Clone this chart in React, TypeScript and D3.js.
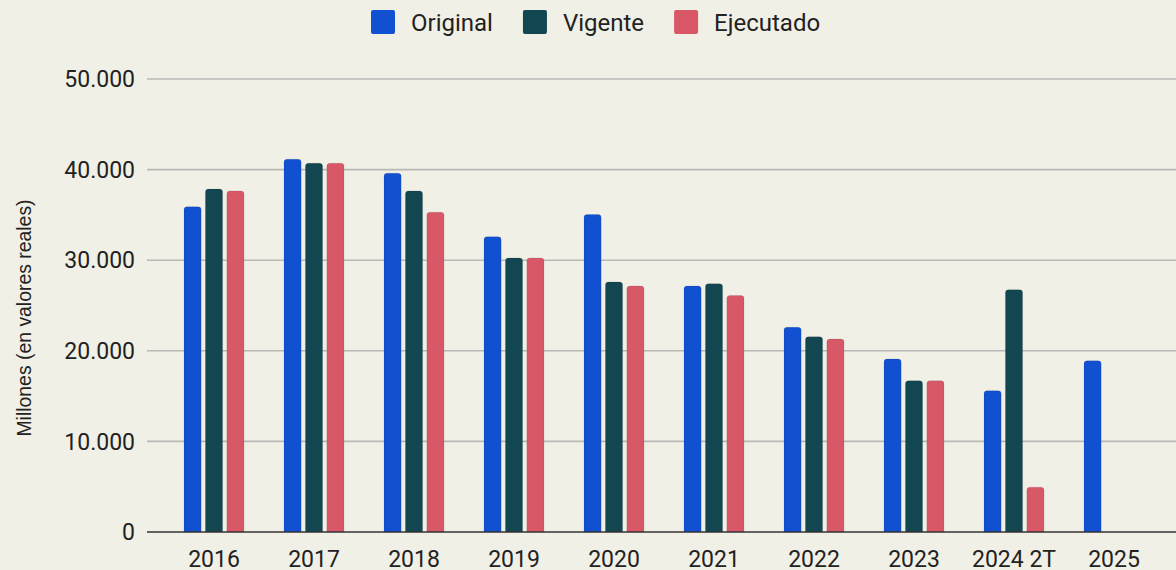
import React, { Component } from "react";
import * as d3 from "d3";

const years = ["2016", "2017", "2018", "2019", "2020", "2021", "2022", "2023", "2024 2T", "2025"];
const seriesNames = ["Original", "Vigente", "Ejecutado"];
const original = [35900, 41150, 39600, 32600, 35050, 27150, 22600, 19100, 15600, 18900];
const vigente = [37850, 40700, 37650, 30250, 27600, 27400, 21550, 16700, 26750, null];
const ejecutado = [37650, 40700, 35300, 30250, 27150, 26100, 21300, 16700, 4950, null];
const colors = ["#1150d1", "#124650", "#d95868"];
const yTicks = [0, 10000, 20000, 30000, 40000, 50000];

class App extends Component {
  svgRef = React.createRef<SVGSVGElement>();

  componentDidMount() {
    this.drawChart();
  }

  componentDidUpdate() {
    this.drawChart();
  }

  drawChart() {
    const width = 1176;
    const height = 570;
    const margin = { top: 79, right: 0, bottom: 38, left: 147 };

    const svg = d3.select(this.svgRef.current);
    svg.selectAll("*").remove();
    svg.attr("width", width).attr("height", height);

    svg.append("rect").attr("width", width).attr("height", height).attr("fill", "#f1f0e6");

    const font = "Roboto, sans-serif";
    const textColor = "#222222";

    const yScale = d3.scaleLinear()
      .domain([0, 50000])
      .range([height - margin.bottom, margin.top]);

    // groups: centres at 214, 314, ...
    const xScale = d3.scaleBand()
      .domain(years)
      .range([164, 1164])
      .paddingInner(0.4)
      .paddingOuter(0.2);

    const subScale = d3.scaleBand()
      .domain(seriesNames)
      .range([0, xScale.bandwidth()])
      .paddingInner(0.2);

    const fmt = d3.formatLocale({ decimal: ",", thousands: ".", grouping: [3], currency: ["", ""] }).format(",");

    // gridlines
    svg.append("g")
      .selectAll("line")
      .data(yTicks.filter(d => d > 0))
      .enter()
      .append("line")
      .attr("x1", margin.left)
      .attr("x2", width)
      .attr("y1", d => yScale(d))
      .attr("y2", d => yScale(d))
      .attr("stroke", "#b8b8b6")
      .attr("stroke-width", 1.6);

    svg.append("g")
      .selectAll("text")
      .data(yTicks)
      .enter()
      .append("text")
      .attr("x", 135)
      .attr("y", d => yScale(d))
      .attr("dy", "0.36em")
      .attr("text-anchor", "end")
      .attr("font-family", font)
      .attr("font-size", 23)
      .attr("fill", textColor)
      .text(d => fmt(d));

    // bars
    const allSeries = [original, vigente, ejecutado];
    const r = 3;
    const barPath = (x: number, y: number, w: number, y0: number) => {
      const rr = Math.min(r, (y0 - y) / 2);
      return `M${x},${y0}V${y + rr}Q${x},${y} ${x + rr},${y}H${x + w - rr}Q${x + w},${y} ${x + w},${y + rr}V${y0}Z`;
    };

    years.forEach((year, i) => {
      const g = svg.append("g").attr("transform", `translate(${xScale(year)},0)`);
      seriesNames.forEach((name, s) => {
        const v = allSeries[s][i];
        if (v == null) return;
        g.append("path")
          .attr("d", barPath(subScale(name)!, yScale(v), subScale.bandwidth(), yScale(0)))
          .attr("fill", colors[s])
          .attr("stroke", "rgba(0,0,0,0.12)")
          .attr("stroke-width", 0.8);
      });
    });

    // baseline
    svg.append("line")
      .attr("x1", margin.left)
      .attr("x2", width)
      .attr("y1", yScale(0))
      .attr("y2", yScale(0))
      .attr("stroke", "#333333")
      .attr("stroke-width", 1.6);

    // x labels
    svg.append("g")
      .selectAll("text")
      .data(years)
      .enter()
      .append("text")
      .attr("x", d => xScale(d)! + xScale.bandwidth() / 2)
      .attr("y", 567)
      .attr("text-anchor", "middle")
      .attr("font-family", font)
      .attr("font-size", 23)
      .attr("fill", textColor)
      .text(d => d);

    // y axis title
    svg.append("text")
      .attr("transform", "translate(31, 318) rotate(-90)")
      .attr("text-anchor", "middle")
      .attr("font-family", "'Liberation Sans', Arial, sans-serif")
      .attr("font-size", 19.4)
      .attr("fill", textColor)
      .text("Millones (en valores reales)");

    // legend
    const legend = svg.append("g");
    let lx = 371;
    seriesNames.forEach((name, s) => {
      legend.append("rect")
        .attr("x", lx)
        .attr("y", 10)
        .attr("width", 24)
        .attr("height", 24)
        .attr("rx", 2)
        .attr("fill", colors[s]);
      const t = legend.append("text")
        .attr("x", lx + 40)
        .attr("y", 31)
        .attr("font-family", font)
        .attr("font-size", 24)
        .attr("fill", textColor)
        .text(name);
      const w = (t.node() as SVGTextElement).getComputedTextLength();
      lx = lx + 40 + w + 30;
    });
  }

  render() {
    return (
      <svg
        ref={this.svgRef}
        style={{ position: "absolute", left: 0, top: 0, display: "block" }}
      ></svg>
    );
  }
}

export default App;
